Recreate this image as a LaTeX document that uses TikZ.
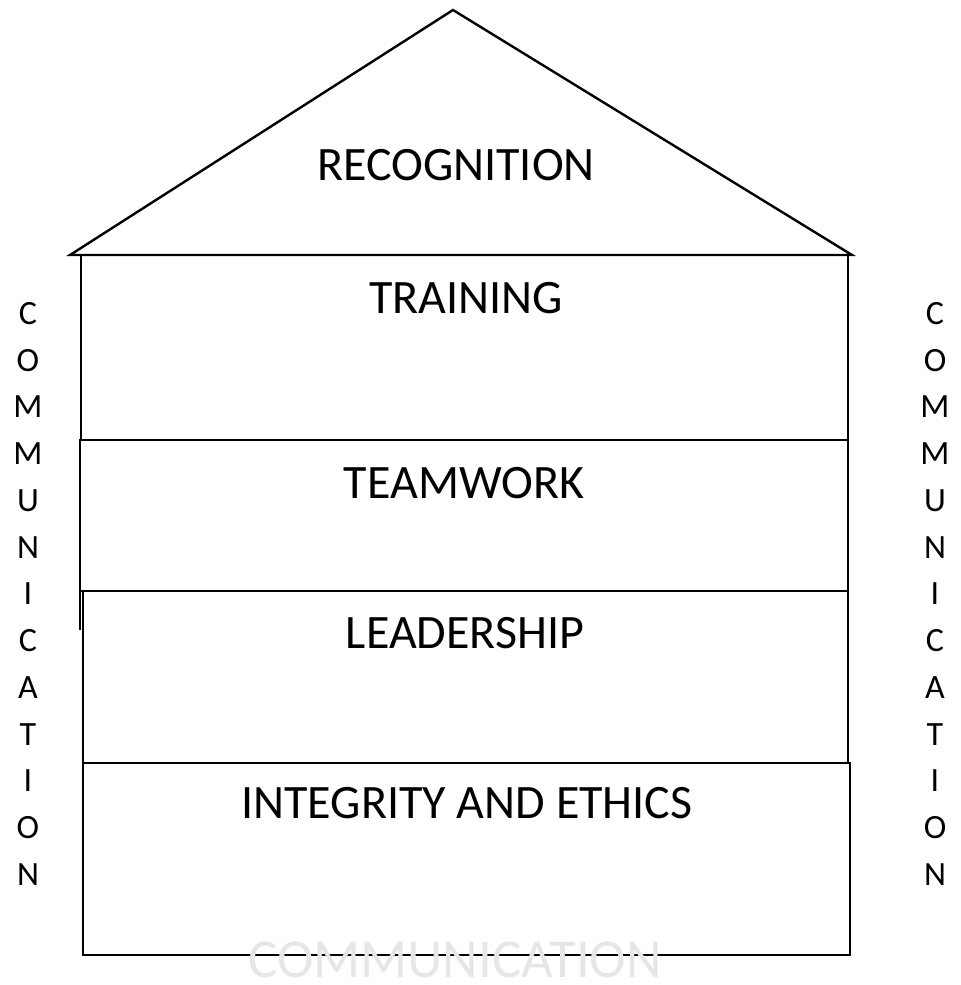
\documentclass[tikz,border=0pt]{standalone}
\usepackage{fontspec}
\setmainfont{Carlito}
\usepackage{tikz}
\usetikzlibrary{positioning}
\definecolor{commgray}{RGB}{230,230,230}

\begin{document}
\begin{tikzpicture}[x=0.5pt,y=-0.5pt,line width=1.2pt,
    layer/.style={font=\fontsize{24}{28}\selectfont,inner sep=0pt,anchor=base},
    side/.style={font=\fontsize{17}{23.375}\selectfont,inner sep=0pt,align=center,anchor=north},
    ground/.style={font=\fontsize{27.5}{32}\selectfont,inner sep=0pt,anchor=base,text=commgray}]
    \useasboundingbox (0,0) rectangle (961,985);
    % roof
    \coordinate (top) at (453,10);
    \coordinate (eaveL) at (70,255);
    \coordinate (eaveR) at (852,255);
    \draw (top) -- (eaveR) -- (eaveL) -- cycle;
    % floors of the house
    \draw (81,255) rectangle (848,440);
    \draw (80,440) rectangle (848,591);
    \draw (80,591) -- (80,630);
    \draw (83,591) rectangle (848,763);
    \draw (83,763) rectangle (850,955);
    % labels of the floors
    \node[layer] (R) at (456,180) {RECOGNITION};
    \node[layer] (T) at (466,313) {TRAINING};
    \node[layer] (W) at (464,498) {TEAMWORK};
    \node[layer] (L) at (465,648) {LEADERSHIP};
    \node[layer] (I) at (467,818) {INTEGRITY AND ETHICS};
    % communication on both walls
    \node[side] (CL) at (28,301) {C\\O\\M\\M\\U\\N\\I\\C\\A\\T\\I\\O\\N};
    \node[side] (CR) at (935,301) {C\\O\\M\\M\\U\\N\\I\\C\\A\\T\\I\\O\\N};
    % communication under the house, over the floor line
    \node[ground] (G) at (455,977) {COMMUNICATION};
\end{tikzpicture}
\end{document}
